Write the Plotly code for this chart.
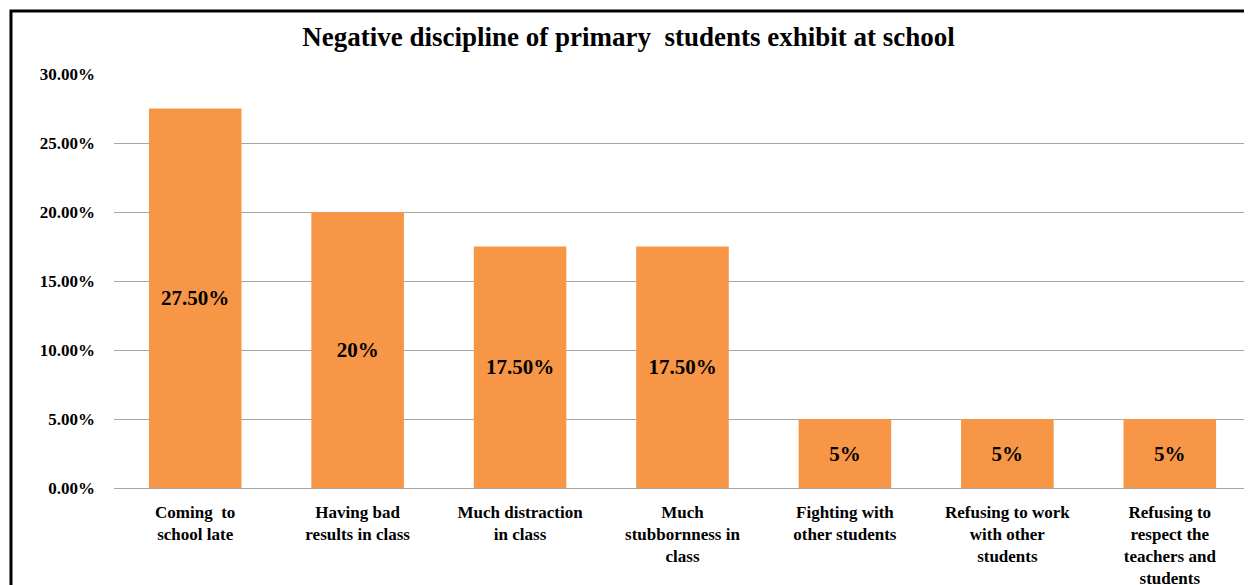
import plotly.graph_objects as go

# Kategorier och värden
categories = [
    "Coming  to<br>school late",
    "Having bad<br>results in class",
    "Much distraction<br>in class",
    "Much<br>stubbornness in<br>class",
    "Fighting with<br>other students",
    "Refusing to work<br>with other<br>students",
    "Refusing to<br>respect the<br>teachers and<br>students",
]
values = [0.275, 0.20, 0.175, 0.175, 0.05, 0.05, 0.05]
bar_labels = ["27.50%", "20%", "17.50%", "17.50%", "5%", "5%", "5%"]
y_ticks = [0, 0.05, 0.10, 0.15, 0.20, 0.25, 0.30]

serif = "Liberation Serif, Times New Roman, serif"

fig = go.Figure()
fig.add_trace(go.Bar(
    x=categories,
    y=values,
    text=bar_labels,
    textposition="inside",
    insidetextanchor="middle",
    textangle=0,
    textfont=dict(family=serif, size=21, color="black", weight="bold"),
    marker=dict(color="#F79646", line=dict(width=0)),
    width=0.57,
    hoverinfo="skip",
))

# Ramen runt diagrammet (nederkanten är avklippt i originalet)
fig.add_shape(
    type="rect", xref="paper", yref="paper",
    x0=-0.0906, x1=0.9987, y0=-0.35, y1=1.152,
    line=dict(color="black", width=3), fillcolor="rgba(0,0,0,0)",
    layer="above",
)

# Sidan har 8px marginal, så figuren görs 8px mindre
fig.update_layout(
    title=dict(
        text="<b>Negative discipline of primary  students exhibit at school</b>",
        x=0.4988, xanchor="center", y=0.9497, yanchor="middle",
        font=dict(family=serif, size=27, color="black"),
    ),
    width=1244,
    height=577,
    margin=dict(l=106, r=1, t=66, b=97),
    plot_bgcolor="white",
    paper_bgcolor="white",
    showlegend=False,
    font=dict(family=serif, color="black"),
)

fig.update_xaxes(
    showgrid=False,
    showline=False,
    ticks="",
    automargin=False,
    ticklabelstandoff=12,
    tickfont=dict(family=serif, size=17, color="black", weight="bold"),
)
fig.update_yaxes(
    range=[0, 0.30],
    tickvals=y_ticks,
    tickformat=".2%",
    showgrid=True,
    gridcolor="#A6A6A6",
    gridwidth=1,
    zeroline=True,
    zerolinecolor="#A6A6A6",
    zerolinewidth=1,
    showline=False,
    automargin=False,
    ticklabelstandoff=18,
    tickfont=dict(family=serif, size=17, color="black", weight="bold"),
)

fig.write_html("out.html")
